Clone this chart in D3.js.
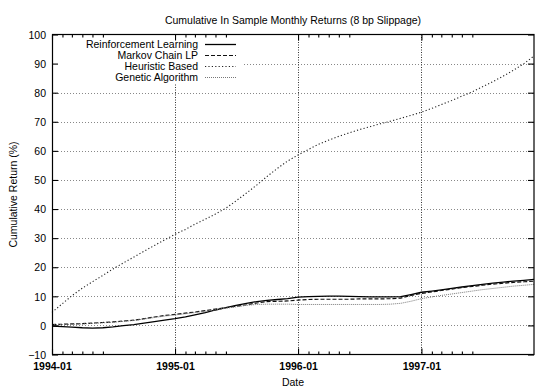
<!DOCTYPE html>
<html>
<head>
<meta charset="utf-8">
<script src="https://cdn.jsdelivr.net/npm/d3@7"></script>
<style>
  html, body { margin: 0; padding: 0; background: #fff; }
  svg { display: block; font-family: "Liberation Sans", Arial, Helvetica, sans-serif; }
</style>
</head>
<body>
<svg id="chart" width="535" height="387"></svg>
<script>
// Monthly observations, 1994-01 through 1997-12
const startMonth = "1994-01";
const endMonth = "1997-12";

const reinforcementLearning = [
  -0.2, -0.4, -0.6, -0.8, -0.9, -0.8, -0.5, -0.1, 0.3, 0.8, 1.3, 1.8,
  2.3, 2.9, 3.6, 4.4, 5.3, 6.1, 6.9, 7.6, 8.2, 8.6, 8.9, 9.2,
  9.7, 9.9, 10.0, 10.1, 10.1, 10.0, 9.9, 9.8, 9.8, 9.8, 9.9, 10.6,
  11.4, 11.8, 12.2, 12.7, 13.2, 13.7, 14.1, 14.5, 14.9, 15.2, 15.5, 15.8
];
const markovChainLP = [
  0.3, 0.4, 0.5, 0.6, 0.8, 1.0, 1.2, 1.5, 1.8, 2.3, 2.9, 3.4,
  3.8, 4.2, 4.6, 5.1, 5.6, 6.1, 6.6, 7.1, 7.7, 8.2, 8.3, 8.4,
  8.7, 8.9, 9.0, 9.0, 9.0, 9.0, 9.1, 9.1, 9.1, 9.2, 9.4, 10.3,
  11.0, 11.5, 12.0, 12.5, 13.0, 13.4, 13.8, 14.2, 14.5, 14.8, 15.0, 15.2
];
const heuristicBased = [
  4.5, 7.5, 10.2, 12.8, 15.0, 17.2, 19.4, 21.5, 23.5, 25.5, 27.5, 29.4,
  31.3, 33.0, 34.8, 36.5, 38.3, 40.3, 42.8, 45.5, 48.3, 51.2, 54.0, 56.5,
  58.6, 60.5, 62.2, 63.7, 65.0, 66.2, 67.3, 68.3, 69.3, 70.2, 71.2, 72.2,
  73.3, 74.6, 75.9, 77.3, 78.8, 80.3, 82.0, 83.8, 85.7, 87.7, 90.0, 92.6
];
const geneticAlgorithm = [
  0.2, 0.3, 0.4, 0.5, 0.7, 0.9, 1.1, 1.4, 1.7, 2.2, 2.7, 3.2,
  3.6, 4.0, 4.4, 4.9, 5.4, 5.9, 6.4, 6.9, 7.2, 7.3, 7.3, 7.3,
  7.2, 7.2, 7.2, 7.2, 7.2, 7.2, 7.2, 7.2, 7.2, 7.3, 7.6, 8.3,
  9.2, 9.8, 10.3, 10.8, 11.3, 11.8, 12.3, 12.7, 13.1, 13.5, 13.8, 14.1
];

const seriesNames = ["Reinforcement Learning", "Markov Chain LP", "Heuristic Based", "Genetic Algorithm"];
const yTicks = [-10, 0, 10, 20, 30, 40, 50, 60, 70, 80, 90, 100];
const xTickLabels = ["1994-01", "1995-01", "1996-01", "1997-01"];

const titleText = "Cumulative In Sample Monthly Returns (8 bp Slippage)";
const xLabel = "Date";
const yLabel = "Cumulative Return (%)";

// ---- layout ----
const parseMonth = d3.timeParse("%Y-%m");
const months = d3.timeMonth.range(parseMonth(startMonth), d3.timeMonth.offset(parseMonth(endMonth), 1));
const plot = { left: 52, right: 534, top: 34.5, bottom: 354.5 };

const x = d3.scaleTime()
  .domain([parseMonth(startMonth), parseMonth(endMonth)])
  .range([plot.left, plot.right]);
const y = d3.scaleLinear()
  .domain([-10, 100])
  .range([plot.bottom, plot.top]);

const svg = d3.select("#chart");
const fontSize = 10.5;

const styles = [
  { stroke: "#000", width: 1.3, dash: null },
  { stroke: "#111", width: 1.2, dash: "4,2" },
  { stroke: "#222", width: 1.1, dash: "1.2,2.2" },
  { stroke: "#777", width: 1.0, dash: "1,1" }
];
const allSeries = [reinforcementLearning, markovChainLP, heuristicBased, geneticAlgorithm];

// ---- grid ----
const grid = svg.append("g");
grid.selectAll("line.h")
  .data(yTicks.filter(v => v > -10 && v < 100))
  .join("line")
  .attr("x1", plot.left).attr("x2", plot.right)
  .attr("y1", d => Math.round(y(d)) + 0.5).attr("y2", d => Math.round(y(d)) + 0.5)
  .attr("stroke", "#888").attr("stroke-width", 1).attr("stroke-dasharray", "1,2");

const majorDates = xTickLabels.map(parseMonth);
grid.selectAll("line.v")
  .data(majorDates.slice(1))
  .join("line")
  .attr("x1", d => Math.round(x(d)) + 0.5).attr("x2", d => Math.round(x(d)) + 0.5)
  .attr("y1", plot.top).attr("y2", plot.bottom)
  .attr("stroke", "#333").attr("stroke-width", 1).attr("stroke-dasharray", "1,1.5");

// ---- legend background (key sits on top of the grid) ----
const legendRight = 198;
const sampleX1 = 205, sampleX2 = 236;
const rowY = [44, 55, 66, 77];
svg.append("rect")
  .attr("x", plot.left + 1).attr("y", plot.top + 1)
  .attr("width", 241 - plot.left).attr("height", 83 - plot.top)
  .attr("fill", "#fff");

// ---- series ----
const line = d3.line()
  .x((d, i) => x(months[i]))
  .y(d => y(d));

const lines = svg.append("g");
allSeries.forEach((s, k) => {
  lines.append("path")
    .datum(s)
    .attr("d", line)
    .attr("fill", "none")
    .attr("stroke", styles[k].stroke)
    .attr("stroke-width", styles[k].width)
    .attr("stroke-dasharray", styles[k].dash);
});

// ---- frame ----
svg.append("rect")
  .attr("x", plot.left + 0.5).attr("y", plot.top)
  .attr("width", plot.right - plot.left - 0.5).attr("height", plot.bottom - plot.top)
  .attr("fill", "none").attr("stroke", "#000").attr("stroke-width", 1.2);

// ---- axes ----
const yAxisL = d3.axisLeft(y).tickValues(yTicks).tickSize(-6).tickPadding(6).tickFormat(d3.format("d"));
const yAxisR = d3.axisRight(y).tickValues(yTicks).tickSize(-6).tickFormat("");
const minorDates = [];
majorDates.forEach(d => {
  for (let m = 1; m <= 5; m++) {
    const t = d3.timeMonth.offset(d, m);
    if (t <= x.domain()[1]) minorDates.push(t);
  }
});
const xAxisB = d3.axisBottom(x).tickValues(majorDates).tickSize(-6).tickPadding(8)
  .tickFormat(d3.timeFormat("%Y-%m"));
const xAxisT = d3.axisTop(x).tickValues(majorDates).tickSize(-6).tickFormat("");
const xMinorB = d3.axisBottom(x).tickValues(minorDates).tickSize(-3).tickFormat("");
const xMinorT = d3.axisTop(x).tickValues(minorDates).tickSize(-3).tickFormat("");

function styleAxis(g) {
  g.select(".domain").remove();
  g.selectAll(".tick line").attr("stroke", "#000").attr("stroke-width", 1.1);
  g.selectAll("text").attr("font-size", fontSize).attr("fill", "#000")
    .attr("font-family", "'Liberation Sans', Arial, sans-serif");
}

svg.append("g").attr("transform", `translate(${plot.left},0)`).call(yAxisL).call(styleAxis)
  .selectAll("text").attr("dy", "0.35em");
svg.append("g").attr("transform", `translate(${plot.right},0)`).call(yAxisR).call(styleAxis);
svg.append("g").attr("transform", `translate(0,${plot.bottom})`).call(xAxisB).call(styleAxis)
  .selectAll("text").attr("font-weight", "bold").attr("dy", "0.71em");
svg.append("g").attr("transform", `translate(0,${plot.top})`).call(xAxisT).call(styleAxis);
svg.append("g").attr("transform", `translate(0,${plot.bottom})`).call(xMinorB).call(styleAxis);
svg.append("g").attr("transform", `translate(0,${plot.top})`).call(xMinorT).call(styleAxis);

// ---- legend ----
const legend = svg.append("g");
seriesNames.forEach((name, k) => {
  legend.append("text")
    .attr("x", legendRight).attr("y", rowY[k]).attr("dy", "0.35em")
    .attr("text-anchor", "end").attr("font-size", fontSize)
    .text(name);
  legend.append("line")
    .attr("x1", sampleX1).attr("x2", sampleX2)
    .attr("y1", rowY[k] + 0.5).attr("y2", rowY[k] + 0.5)
    .attr("stroke", styles[k].stroke)
    .attr("stroke-width", styles[k].width)
    .attr("stroke-dasharray", styles[k].dash);
});

// ---- titles ----
const cx = (plot.left + plot.right) / 2;
svg.append("text")
  .attr("x", cx).attr("y", 24).attr("text-anchor", "middle")
  .attr("font-size", fontSize).text(titleText);
svg.append("text")
  .attr("x", cx).attr("y", 386).attr("text-anchor", "middle")
  .attr("font-size", fontSize).text(xLabel);
svg.append("text")
  .attr("transform", `translate(17,${(plot.top + plot.bottom) / 2}) rotate(-90)`)
  .attr("text-anchor", "middle")
  .attr("font-size", fontSize).text(yLabel);
</script>
</body>
</html>
